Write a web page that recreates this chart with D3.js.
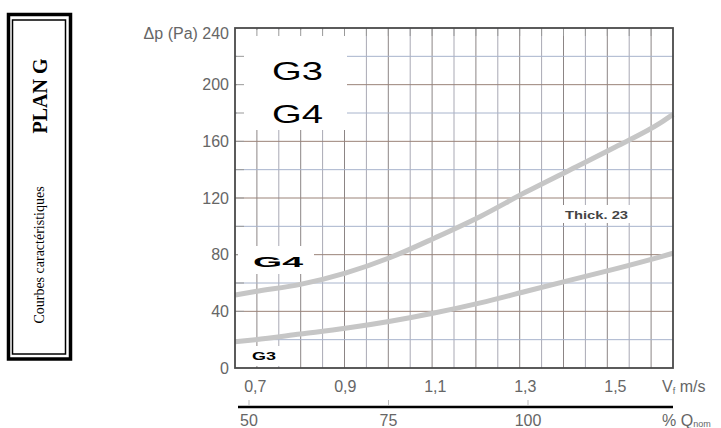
<!DOCTYPE html>
<html>
<head>
<meta charset="utf-8">
<title>Plan G - courbes</title>
<style>
  body { margin: 0; background: #fff; }
  svg { display: block; }
  .lab { font-family: "Liberation Sans", Arial, sans-serif; fill: #666; font-size: 16px; }
</style>
</head>
<body>
<svg id="chart"></svg>
<script src="https://d3js.org/d3.v7.min.js"></script>
<script>
// curve readings, Vf in m/s -> pressure drop in Pa
var velocity   = [0.655, 0.7, 0.8, 0.9, 1.0, 1.1, 1.2, 1.3, 1.4, 1.5, 1.6, 1.628];
var g4Pressure = [51.5, 54, 59, 67, 78, 92, 107, 124, 140, 156, 173, 179];
var g3Pressure = [18.5, 20, 24, 28, 33, 39, 46, 54, 62, 70, 78.5, 81];

var velocityTicks = [0.7, 0.9, 1.1, 1.3, 1.5];
var pressureTicks = [0, 40, 80, 120, 160, 200, 240];
var flowTicks = [50, 75, 100];

var svgWidth = 721, svgHeight = 428;
var plotLeft = 235, plotRight = 673, plotTop = 28, plotBottom = 368;

var svg = d3.select('#chart')
    .attr("width", svgWidth)
    .attr("height", svgHeight);

var xScale = d3.scaleLinear().domain([0.655, 1.628]).range([plotLeft, plotRight]);
var yScale = d3.scaleLinear().domain([0, 240]).range([plotBottom, plotTop]);
var qScale = d3.scaleLinear().domain([50, 100]).range([249, 528]);
var colScale = d3.scaleLinear().domain([0, 20]).range([plotLeft, plotRight]);

// ---- side box
svg.append("rect").attr("x", 8.5).attr("y", 14.5).attr("width", 62).attr("height", 344.5)
    .attr("fill", "none").attr("stroke", "#000").attr("stroke-width", 3.5);
svg.append("rect").attr("x", 12.5).attr("y", 20).attr("width", 53).attr("height", 334)
    .attr("fill", "none").attr("stroke", "#000").attr("stroke-width", 1.5);
svg.append("text").text("PLAN G")
    .attr("transform", "translate(47,96) rotate(-90)")
    .attr("text-anchor", "middle")
    .style("font-family", "'Liberation Serif', 'Times New Roman', serif")
    .style("font-weight", "bold").style("font-size", "20px");
svg.append("text").text("Courbes caractéristiques")
    .attr("transform", "translate(44,255) rotate(-90)")
    .attr("text-anchor", "middle")
    .style("font-family", "'Liberation Serif', 'Times New Roman', serif")
    .style("font-size", "14px");

// ---- grid
var grid = svg.append("g");
grid.selectAll("line.v")
    .data(d3.range(1, 20))
    .enter().append("line")
    .attr("x1", function(d) { return colScale(d); })
    .attr("x2", function(d) { return colScale(d); })
    .attr("y1", plotTop).attr("y2", plotBottom)
    .attr("stroke", function(d) { return d % 2 ? "#8c8585" : "#a9a9b4"; })
    .attr("stroke-width", 1);
grid.selectAll("line.h")
    .data(d3.range(20, 240, 20))
    .enter().append("line")
    .attr("x1", plotLeft).attr("x2", plotRight)
    .attr("y1", function(d) { return yScale(d); })
    .attr("y2", function(d) { return yScale(d); })
    .attr("stroke", function(d) { return d % 40 ? "#a8b4cc" : "#9a8378"; })
    .attr("stroke-width", 1);

// white patch behind the big title
svg.append("rect").attr("x", plotLeft + 2).attr("y", plotTop + 2).attr("width", 110).attr("height", 100)
    .attr("fill", "#fff");

// short ticks along top and left edge
svg.selectAll("line.tt")
    .data(d3.range(1, 20))
    .enter().append("line")
    .attr("x1", function(d) { return colScale(d); })
    .attr("x2", function(d) { return colScale(d); })
    .attr("y1", plotTop).attr("y2", plotTop + 8)
    .attr("stroke", "#999");
svg.selectAll("line.lt")
    .data(d3.range(20, 240, 20))
    .enter().append("line")
    .attr("x1", plotLeft).attr("x2", plotLeft + 9)
    .attr("y1", function(d) { return yScale(d); })
    .attr("y2", function(d) { return yScale(d); })
    .attr("stroke", "#999");

// ---- curves
var line = d3.line()
    .x(function(d) { return xScale(d[0]); })
    .y(function(d) { return yScale(d[1]); })
    .curve(d3.curveMonotoneX);

[g4Pressure, g3Pressure].forEach(function(series) {
    svg.append("path")
        .datum(velocity.map(function(v, i) { return [v, series[i]]; }))
        .attr("d", line)
        .attr("fill", "none")
        .attr("stroke", "#c6c6c6")
        .attr("stroke-width", 5);
});

// ---- frame
svg.append("rect").attr("x", plotLeft).attr("y", plotTop)
    .attr("width", plotRight - plotLeft).attr("height", plotBottom - plotTop)
    .attr("fill", "none").attr("stroke", "#4a4a4a").attr("stroke-width", 1.8);

// ---- curve labels
svg.append("rect").attr("x", 238).attr("y", 246).attr("width", 76).attr("height", 28).attr("fill", "#fff");
svg.append("text").text("G4")
    .attr("x", 253).attr("y", 267)
    .attr("textLength", 50).attr("lengthAdjust", "spacingAndGlyphs")
    .style("font-family", "'Liberation Sans', Arial, sans-serif")
    .style("font-weight", "bold").style("font-size", "14px");

svg.append("rect").attr("x", 238).attr("y", 346).attr("width", 50).attr("height", 20).attr("fill", "#fff");
svg.append("text").text("G3")
    .attr("x", 252).attr("y", 360)
    .attr("textLength", 24).attr("lengthAdjust", "spacingAndGlyphs")
    .style("font-family", "'Liberation Sans', Arial, sans-serif")
    .style("font-weight", "bold").style("font-size", "10px");

svg.append("rect").attr("x", 562).attr("y", 205).attr("width", 69).attr("height", 18).attr("fill", "#fff");
svg.append("text").text("Thick.  23")
    .attr("x", 565).attr("y", 219)
    .attr("textLength", 63).attr("lengthAdjust", "spacingAndGlyphs")
    .style("fill", "#444")
    .style("font-family", "'Liberation Sans', Arial, sans-serif")
    .style("font-weight", "bold").style("font-size", "11px");

// big title
["G3", "G4"].forEach(function(t, i) {
    svg.append("text").text(t)
        .attr("x", 272).attr("y", 80 + i * 43)
        .attr("textLength", 51).attr("lengthAdjust", "spacingAndGlyphs")
        .style("font-family", "'Liberation Sans', Arial, sans-serif")
        .style("font-size", "26px");
});

// ---- y labels
svg.selectAll("text.ylab")
    .data(pressureTicks)
    .enter().append("text")
    .attr("class", "lab")
    .attr("x", 229)
    .attr("y", function(d) { return yScale(d) + (d == 240 ? 5 : 0); })
    .attr("dy", "0.35em")
    .attr("text-anchor", "end")
    .text(function(d) { return d == 240 ? "Δp (Pa) 240" : d; });

// ---- x labels (velocity)
svg.selectAll("text.xlab")
    .data(velocityTicks)
    .enter().append("text")
    .attr("class", "lab")
    .attr("x", function(d) { return xScale(d); })
    .attr("y", 392)
    .attr("text-anchor", "middle")
    .text(function(d) { return String(d).replace(".", ","); });

var vt = svg.append("text").attr("class", "lab").attr("x", 662).attr("y", 392);
vt.append("tspan").text("V");
vt.append("tspan").text("f").style("font-size", "9px").attr("dy", 2);
vt.append("tspan").text(" m/s").attr("dy", -2);

// ---- flow axis
svg.append("line").attr("x1", 238).attr("x2", plotRight).attr("y1", 407).attr("y2", 407)
    .attr("stroke", "#000").attr("stroke-width", 2.5);
svg.selectAll("line.qt")
    .data(flowTicks)
    .enter().append("line")
    .attr("x1", function(d) { return qScale(d); })
    .attr("x2", function(d) { return qScale(d); })
    .attr("y1", 400).attr("y2", 406)
    .attr("stroke", "#bbb");
svg.selectAll("text.qlab")
    .data(flowTicks)
    .enter().append("text")
    .attr("class", "lab")
    .attr("x", function(d) { return qScale(d); })
    .attr("y", 426)
    .attr("text-anchor", "middle")
    .text(function(d) { return d; });

var qt = svg.append("text").attr("class", "lab").attr("x", 662).attr("y", 426);
qt.append("tspan").text("% Q");
qt.append("tspan").text("nom").style("font-size", "9px").attr("dy", 1);
</script>
</body>
</html>
